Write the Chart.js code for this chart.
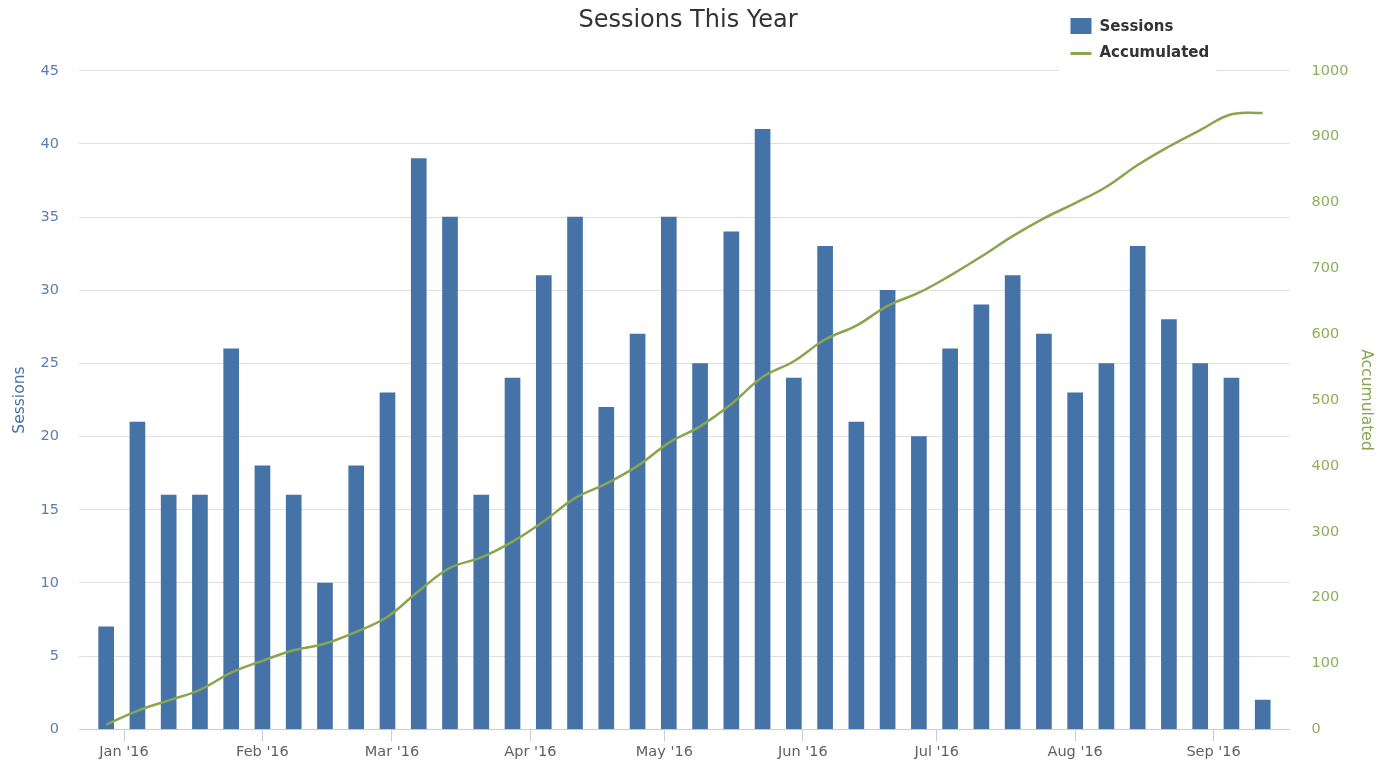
<!DOCTYPE html>
<html>
<head>
<meta charset="utf-8">
<title>Sessions This Year</title>
<script src="https://cdn.jsdelivr.net/npm/chart.js@4.4.1/dist/chart.umd.min.js"></script>
<style>
  html, body { margin: 0; padding: 0; background: #ffffff; }
  #wrap { width: 1376px; height: 762px; position: relative; }
</style>
</head>
<body>
<div id="wrap"><canvas id="chart" width="1376" height="762"></canvas></div>
<script>
// ---- data ----
const weekStarts = [
  '2015-12-28', '2016-01-04', '2016-01-11', '2016-01-18', '2016-01-25',
  '2016-02-01', '2016-02-08', '2016-02-15', '2016-02-22', '2016-02-29',
  '2016-03-07', '2016-03-14', '2016-03-21', '2016-03-28',
  '2016-04-04', '2016-04-11', '2016-04-18', '2016-04-25',
  '2016-05-02', '2016-05-09', '2016-05-16', '2016-05-23', '2016-05-30',
  '2016-06-06', '2016-06-13', '2016-06-20', '2016-06-27',
  '2016-07-04', '2016-07-11', '2016-07-18', '2016-07-25',
  '2016-08-01', '2016-08-08', '2016-08-15', '2016-08-22', '2016-08-29',
  '2016-09-05', '2016-09-12'
];
const sessions = [
  7, 21, 16, 16, 26, 18, 16, 10, 18, 23,
  39, 35, 16, 24, 31, 35, 22, 27, 35, 25,
  34, 41, 24, 33, 21, 30, 20, 26, 29, 31,
  27, 23, 25, 33, 28, 25, 24, 2
];
const accumulated = [
  7, 28, 44, 60, 86, 104, 120, 130, 148, 171,
  210, 245, 261, 285, 316, 351, 373, 400, 435, 460,
  494, 535, 559, 592, 613, 643, 663, 689, 718, 749,
  776, 799, 824, 857, 885, 910, 934, 936
];
const monthStarts = [
  '2016-01-01', '2016-02-01', '2016-03-01', '2016-04-01', '2016-05-01',
  '2016-06-01', '2016-07-01', '2016-08-01', '2016-09-01'
];
const monthLabels = [
  "Jan '16", "Feb '16", "Mar '16", "Apr '16", "May '16",
  "Jun '16", "Jul '16", "Aug '16", "Sep '16"
];
const seriesNames = ['Sessions', 'Accumulated'];
const chartTitle = 'Sessions This Year';
const xRangeDates = ['2015-12-21T22:00:00', '2016-09-18T00:00:00'];

// ---- helpers ----
const ORIGIN = Date.UTC(2016, 0, 1);
function dayOf(s) {
  const d = new Date(s + (s.length === 10 ? 'T00:00:00Z' : 'Z'));
  return (d.getTime() - ORIGIN) / 86400000;
}
const xs = weekStarts.map(dayOf);
const tickDays = monthStarts.map(dayOf);

const BLUE = '#4572A7';
const GREEN = '#89A54E';
const FONT = '"DejaVu Sans", "Lucida Grande", Verdana, sans-serif';

const legendPlugin = {
  id: 'customLegend',
  afterDraw(chart) {
    const ctx = chart.ctx;
    const ca = chart.chartArea;
    const x0 = ca.right - 230;
    ctx.save();
    ctx.fillStyle = '#ffffff';
    ctx.fillRect(x0, 0, 157, ca.top + 3);
    // Sessions
    ctx.fillStyle = BLUE;
    ctx.fillRect(x0 + 11, 18, 21, 16);
    ctx.font = 'bold 15px ' + FONT;
    ctx.fillStyle = '#333333';
    ctx.textBaseline = 'middle';
    ctx.textAlign = 'left';
    ctx.fillText(seriesNames[0], x0 + 40, 27);
    // Accumulated
    ctx.strokeStyle = GREEN;
    ctx.lineWidth = 3;
    ctx.beginPath();
    ctx.moveTo(x0 + 11, 53.5);
    ctx.lineTo(x0 + 32, 53.5);
    ctx.stroke();
    ctx.fillText(seriesNames[1], x0 + 40, 53);
    ctx.restore();
  }
};

new Chart(document.getElementById('chart'), {
  type: 'bar',
  data: {
    datasets: [
      {
        type: 'line',
        label: seriesNames[1],
        data: xs.map((x, i) => ({ x: x, y: accumulated[i] })),
        yAxisID: 'y1',
        xAxisID: 'x',
        borderColor: GREEN,
        backgroundColor: GREEN,
        borderWidth: 2.5,
        pointRadius: 0,
        tension: 0.4,
        fill: false,
        order: 0
      },
      {
        type: 'bar',
        label: seriesNames[0],
        data: xs.map((x, i) => ({ x: x, y: sessions[i] })),
        yAxisID: 'y',
        xAxisID: 'x',
        backgroundColor: BLUE,
        borderWidth: 0,
        barThickness: 15,
        order: 1
      }
    ]
  },
  options: {
    responsive: false,
    animation: false,
    devicePixelRatio: 1,
    layout: { padding: { left: 0, right: 0, top: 0, bottom: 0 } },
    plugins: {
      legend: { display: false },
      tooltip: { enabled: false },
      title: {
        display: true,
        text: chartTitle,
        color: '#333333',
        font: { family: FONT, size: 24, weight: 'normal' },
        padding: { top: 6, bottom: 36 }
      }
    },
    scales: {
      x: {
        type: 'linear',
        position: 'bottom',
        min: dayOf(xRangeDates[0]),
        max: dayOf(xRangeDates[1]),
        offset: false,
        afterBuildTicks(scale) {
          scale.ticks = tickDays.map(v => ({ value: v }));
        },
        afterFit(scale) { scale.height = 32.7; },
        ticks: {
          autoSkip: false,
          maxRotation: 0,
          padding: 2,
          color: '#606060',
          font: { family: FONT, size: 14.5 },
          callback(value) {
            const i = tickDays.indexOf(value);
            return i >= 0 ? monthLabels[i] : '';
          }
        },
        grid: {
          offset: false,
          drawOnChartArea: false,
          drawTicks: true,
          tickLength: 12,
          color: '#C0D0E0',
          lineWidth: 1
        },
        border: { display: true, color: '#C0D0E0', width: 1 }
      },
      y: {
        type: 'linear',
        position: 'left',
        min: 0,
        max: 45,
        afterFit(scale) { scale.width = 79; },
        ticks: {
          stepSize: 5,
          padding: 20,
          color: '#5a7fae',
          font: { family: FONT, size: 14.5 },
          callback: (v) => String(v)
        },
        grid: {
          drawTicks: false,
          color: (c) => (c.tick && c.tick.value === 0) ? 'rgba(0,0,0,0)' : '#e0e0e0',
          lineWidth: 1
        },
        border: { display: false },
        title: {
          display: true,
          text: seriesNames[0],
          color: BLUE,
          font: { family: FONT, size: 15.5 },
          padding: { top: 11, bottom: 0 }
        }
      },
      y1: {
        type: 'linear',
        position: 'right',
        min: 0,
        max: 1000,
        afterFit(scale) { scale.width = 86.5; },
        ticks: {
          stepSize: 100,
          padding: 22,
          color: '#8fae5a',
          font: { family: FONT, size: 14.5 },
          callback: (v) => String(v)
        },
        grid: { drawOnChartArea: false, drawTicks: false },
        border: { display: false },
        title: {
          display: true,
          text: seriesNames[1],
          color: GREEN,
          font: { family: FONT, size: 15.5 },
          padding: { top: 1, bottom: 0 }
        }
      }
    }
  },
  plugins: [legendPlugin]
});
</script>
</body>
</html>
